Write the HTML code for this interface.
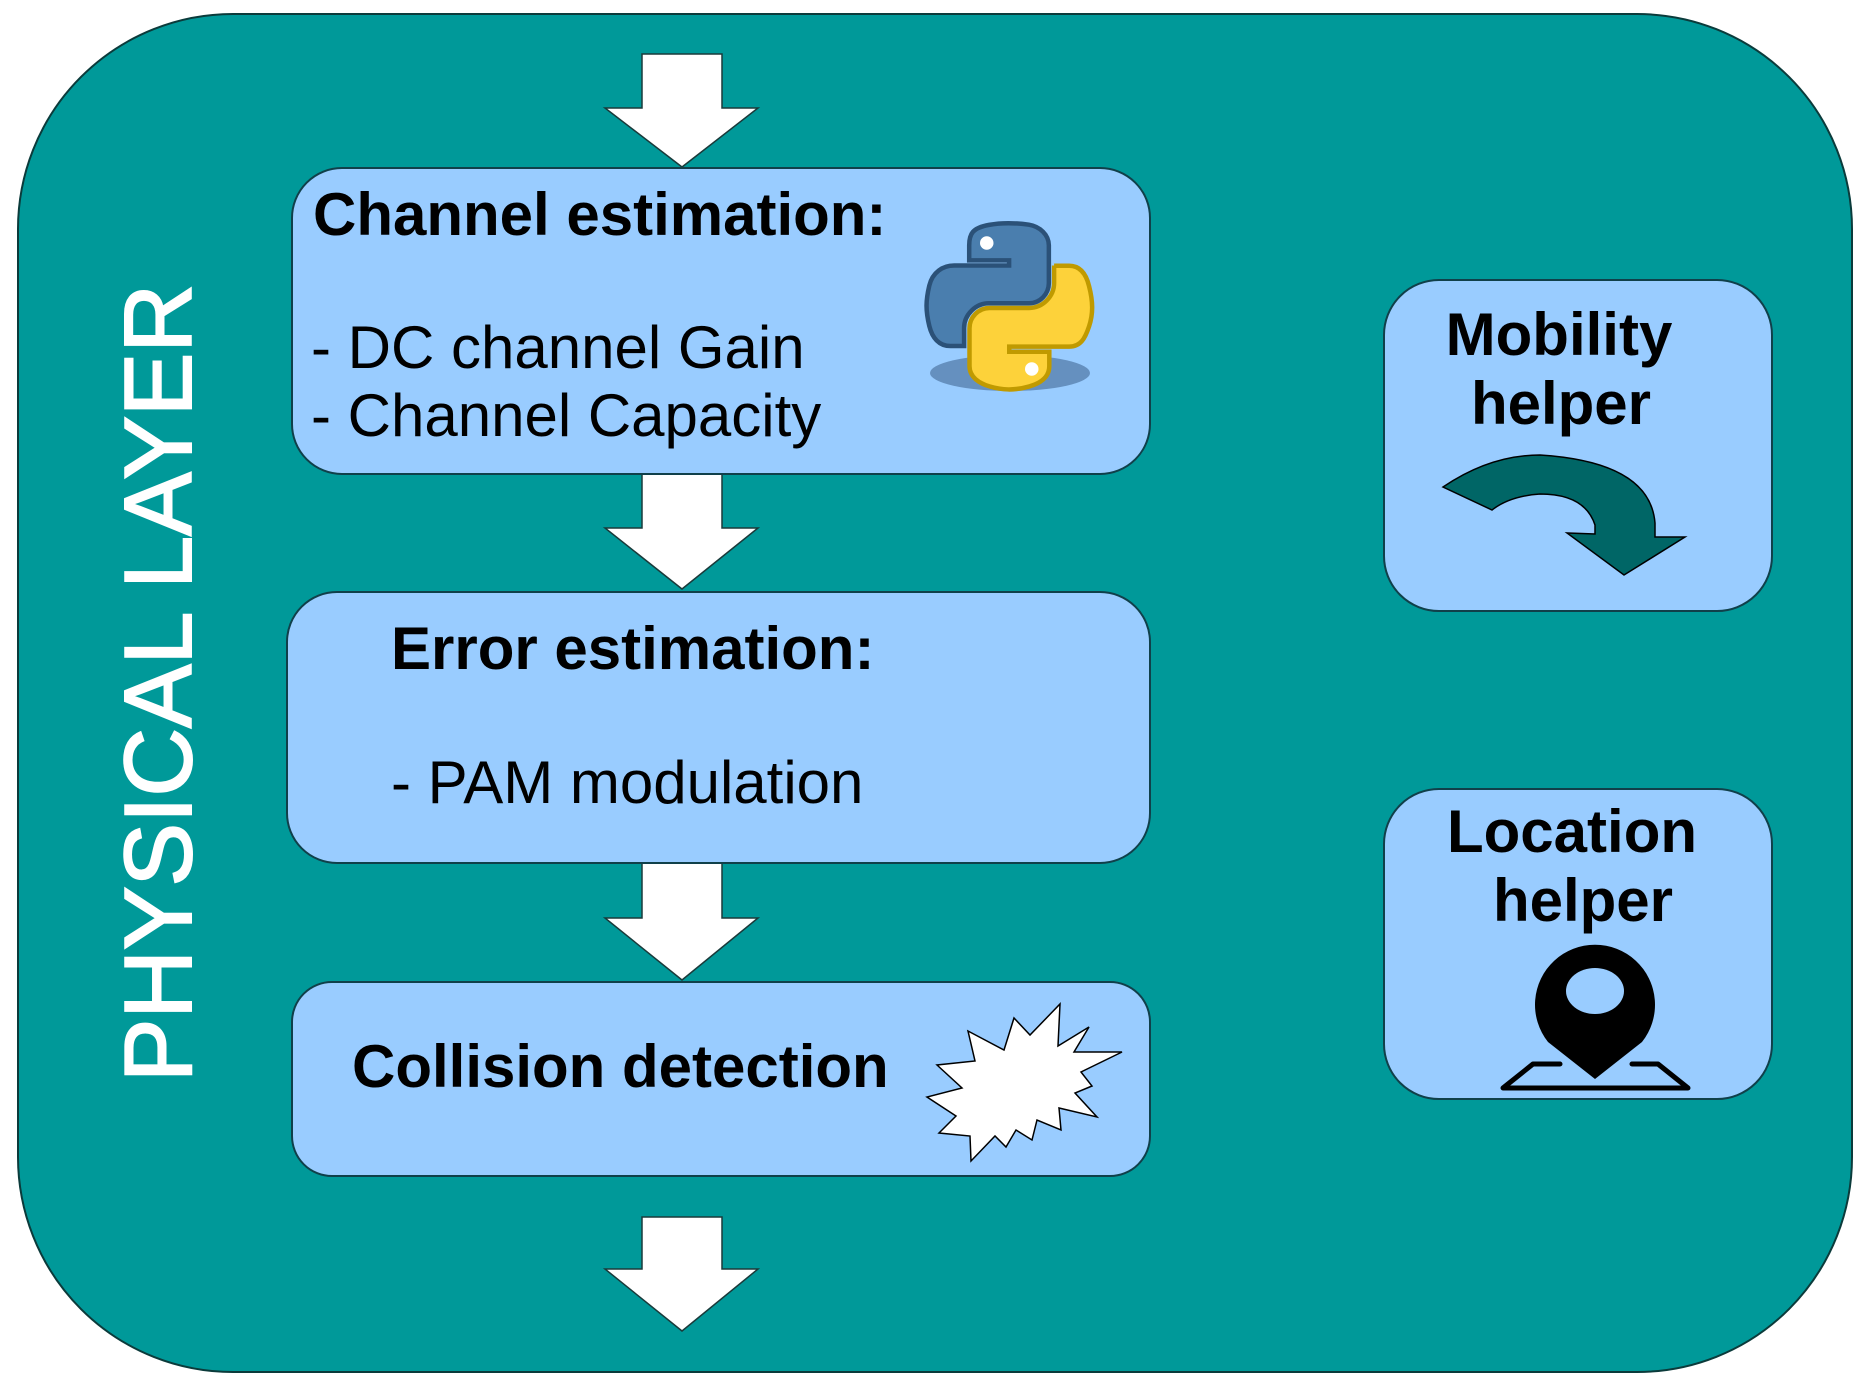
<!DOCTYPE html>
<html><head><meta charset="utf-8"><style>
html,body{margin:0;padding:0;background:#fff;}
svg{display:block;}
text{font-family:"Liberation Sans",Arial,sans-serif;fill:#000;}
</style></head><body>
<svg width="1873" height="1394" viewBox="0 0 1873 1394" xmlns="http://www.w3.org/2000/svg">
<rect x="18" y="14" width="1834" height="1358" rx="215" ry="215" fill="#009999" stroke="#0b3b3b" stroke-width="2"/>
<text transform="translate(191,1082) rotate(-90)" font-size="96" fill="#fff" style="fill:#fff;stroke:#fff;stroke-width:2" textLength="798" lengthAdjust="spacingAndGlyphs">PHYSICAL LAYER</text>
<g fill="#fff" stroke="#1a3a3a" stroke-width="1.5">
<polygon points="642,54 722,54 722,108 758,108 682,167 605,108 642,108"/>
<polygon points="642,474 722,474 722,528 758,528 682,589 605,528 642,528"/>
<polygon points="642,863 722,863 722,918 758,918 682,980 605,918 642,918"/>
<polygon points="642,1217 722,1217 722,1269 758,1269 682,1331 605,1269 642,1269"/>
</g>
<g fill="#99ccff" stroke="#10404a" stroke-width="2">
<rect x="292" y="168" width="858" height="306" rx="50"/>
<rect x="287" y="592" width="863" height="271" rx="50"/>
<rect x="292" y="982" width="858" height="194" rx="40"/>
<rect x="1384" y="280" width="388" height="331" rx="55"/>
<rect x="1384" y="789" width="388" height="310" rx="55"/>
</g>
<text x="313" y="235" font-size="60" font-weight="bold">Channel estimation:</text>
<text x="311" y="368" font-size="60">- DC channel Gain</text>
<text x="311" y="436" font-size="60">- Channel Capacity</text>
<text x="391" y="669" font-size="60" font-weight="bold">Error estimation:</text>
<text x="391" y="803" font-size="60">- PAM modulation</text>
<text x="352" y="1087" font-size="60" font-weight="bold">Collision detection</text>
<text x="1559" y="355" font-size="60" font-weight="bold" text-anchor="middle">Mobility</text>
<text x="1561" y="424" font-size="60" font-weight="bold" text-anchor="middle">helper</text>
<text x="1572" y="852" font-size="60" font-weight="bold" text-anchor="middle">Location</text>
<text x="1583" y="921" font-size="60" font-weight="bold" text-anchor="middle">helper</text>
<ellipse cx="1010" cy="373" rx="80" ry="18" fill="#3a5f8a" opacity="0.55"/>
<g transform="translate(926,222) scale(1.5)" stroke-width="3">
<path d="M54.9,0.8c-4.6,0-9,0.4-12.8,1.1C30.8,3.9,28.8,8,28.8,15.6v10h26.6v3.4H28.8H18.8c-7.7,0-14.5,4.6-16.6,13.4c-2.4,10.1-2.5,16.4,0,26.9c1.9,7.8,6.4,13.4,14.1,13.4h9.1V70.6c0-8.7,7.6-16.4,16.6-16.4h26.6c7.4,0,13.3-6.1,13.3-13.5V15.6c0-7.2-6.1-12.6-13.3-13.8C64.1,1.1,59.5,0.8,54.9,0.8z" fill="#4a7eae" stroke="#2b5178"/>
<path d="M85.4,29v11.7c0,9-7.7,16.6-16.6,16.6H42.3c-7.3,0-13.3,6.2-13.3,13.5v25.3c0,7.2,6.3,11.4,13.3,13.5c8.4,2.5,16.4,2.9,26.6,0c6.7-1.9,13.3-5.8,13.3-13.5V86.5H55.5v-3.4h26.6h13.3c7.7,0,10.6-5.4,13.3-13.5c2.8-8.4,2.7-16.4,0-26.9c-1.9-7.7-5.6-13.5-13.3-13.5H85.4z" fill="#fdd23a" stroke="#c09a00"/>
<circle cx="40.5" cy="14" r="4.5" fill="#fff"/>
<circle cx="70.5" cy="98" r="4.5" fill="#fff"/>
</g>
<path d="M1443,487 Q1490,455 1540,455 Q1650,462 1655,523 L1655,537 L1685,537 L1624,575 L1567,533 L1595,534 L1595,525 Q1585,494 1540,494 Q1510,496 1492,510 Z" fill="#006666" stroke="#000" stroke-width="1.5"/>
<polygon points="1060,1004 1058,1046 1089,1027 1074,1052 1122,1052 1081,1072 1092,1086 1075,1093 1097,1117 1059,1108 1061,1130 1037,1120 1032,1140 1016,1130 1006,1147 995,1136 971,1161 970,1136 939,1133 956,1116 927,1097 962,1088 937,1065 975,1061 968,1031 1004,1050 1014,1018 1030,1035" fill="#fff" stroke="#000" stroke-width="1.5"/>
<path d="M1595,1079 L1548,1042 A60,60 0 1 1 1642,1042 Z" fill="#000"/>
<ellipse cx="1595" cy="991" rx="29" ry="23" fill="#99ccff"/>
<polyline points="1560,1064 1533,1064 1503,1088 1688,1088 1658,1064 1632,1064" fill="none" stroke="#000" stroke-width="5" stroke-linejoin="round" stroke-linecap="round"/>
</svg>
</body></html>
